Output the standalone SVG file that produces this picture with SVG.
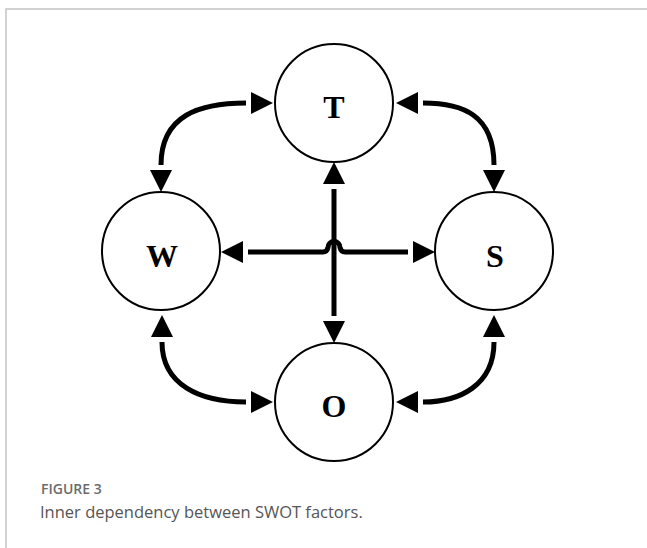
<svg xmlns="http://www.w3.org/2000/svg" width="647" height="548" viewBox="0 0 647 548">
<style>
.node circle{fill:#fff;stroke:#000;stroke-width:2}
.node text{font-family:"Liberation Serif","Times New Roman",serif;font-weight:bold;font-size:32px;text-anchor:middle;fill:#000}
.conn{fill:none;stroke:#000;stroke-width:5;marker-start:url(#ah);marker-end:url(#ah)}
.cap1{font-family:"Open Sans","Liberation Sans",sans-serif;font-weight:600;font-size:14px;fill:#6b6b6b}
.cap2{font-family:"Open Sans","Liberation Sans",sans-serif;font-size:16.5px;fill:#555}
</style>
<defs>
<marker id="ah" markerUnits="userSpaceOnUse" viewBox="0 -11 28 22" refX="0" refY="0" markerWidth="28" markerHeight="22" orient="auto-start-reverse">
<path d="M5,-11 L27,0 L5,11 Z" fill="#000"/>
</marker>
</defs>
<rect width="647" height="548" fill="#fff"/>
<path d="M6,548 V9 H647" fill="none" stroke="#c4c4c4" stroke-width="1.5"/>
<g id="connectors">
<path class="conn" d="M161,165 C161,115 200,103 246,103"/>
<path class="conn" d="M423,103 C463,103 494,115 494,165"/>
<path class="conn" d="M494,342 C494,385 460,402 423,402"/>
<path class="conn" d="M162,342 C162,385 200,402 246,402"/>
<path class="conn" d="M334,189 L334,316"/>
<path class="conn" d="M248,252 L323,252 Q327,252 328,247.5 A6,6 0 0 1 340,247.5 Q341,252 345,252 L408,252"/>
</g>
<g id="node-T" class="node"><circle cx="334" cy="103" r="59"/><text x="334" y="118">T</text></g>
<g id="node-W" class="node"><circle cx="161" cy="251" r="59"/><text x="162" y="267">W</text></g>
<g id="node-S" class="node"><circle cx="494" cy="251" r="59"/><text x="495" y="267">S</text></g>
<g id="node-O" class="node"><circle cx="334" cy="402" r="59"/><text x="334" y="417">O</text></g>
<text class="cap1" x="41" y="494">FIGURE 3</text>
<text class="cap2" x="40" y="518">Inner dependency between SWOT factors.</text>
</svg>
